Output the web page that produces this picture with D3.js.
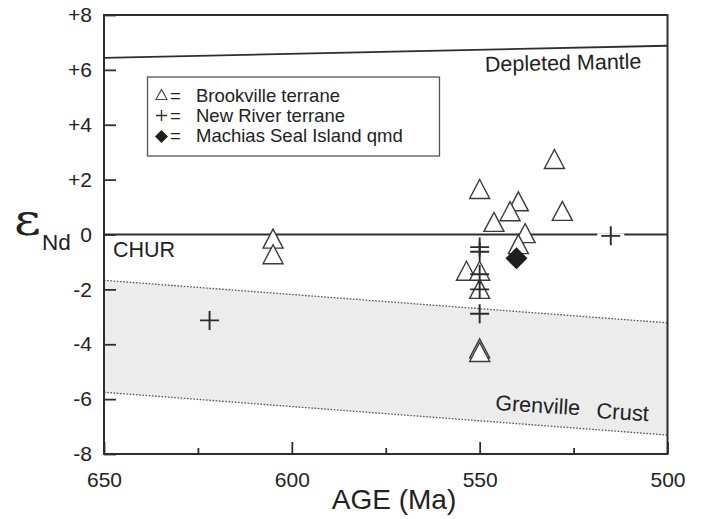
<!DOCTYPE html>
<html>
<head>
<meta charset="utf-8">
<style>
	body{
		margin: 0;
		background: white;
	}
	svg{
		display: block;
	}
	text{
		font-family: "Liberation Sans", Arial, sans-serif;
		fill: #222;
	}
</style>
</head>
<body>
<script src="https://cdn.jsdelivr.net/npm/d3@7/dist/d3.min.js" charset="utf-8"></script>
<svg width="703" height="519"></svg>
<script>
	// Brookville terrane (open triangles)
	var brookAge = [605, 605, 530.1, 550, 539.7, 541.9, 546.2, 528, 537.9, 539.7, 553.5, 550, 550, 550, 550];
	var brookEps = [-0.15, -0.72, 2.75, 1.66, 1.21, 0.85, 0.46, 0.86, 0.05, -0.35, -1.32, -1.32, -1.98, -4.15, -4.28];
	// New River terrane (crosses)
	var riverAge = [621.9, 550, 550, 550, 550, 550, 515.1];
	var riverEps = [-3.13, -0.46, -0.63, -1.45, -2.0, -2.89, -0.05];
	// Machias Seal Island qmd (diamond)
	var machAge = [540.2];
	var machEps = [-0.87];

	// reference curves
	var mantleAge = [650, 500];
	var mantleEps = [6.44, 6.88];
	var crustAge = [650, 500];
	var crustTop = [-1.67, -3.22];
	var crustBottom = [-5.75, -7.31];

	var yTicks = [-8, -6, -4, -2, 0, 2, 4, 6, 8];
	var xTicks = [650, 600, 550, 500];
	var xMinor = [625, 575, 525];
	var legendText = ["Brookville terrane", "New River terrane", "Machias Seal Island qmd"];

	var svg = d3.select("svg");
	var x = d3.scaleLinear().domain([650, 500]).range([104, 667.5]);
	var y = d3.scaleLinear().domain([-8, 8]).range([454, 15]);
	var ink = "#2e2e2e";

	// Grenville crust band
	var band = crustAge.map(function(a, i){ return {a: a, t: crustTop[i], b: crustBottom[i]}; });
	svg.append("path")
		.datum(band)
		.attr("d", d3.area().x(function(d){ return x(d.a); }).y0(function(d){ return y(d.b); }).y1(function(d){ return y(d.t); }))
		.attr("fill", "#ececec");
	[crustTop, crustBottom].forEach(function(arr){
		svg.append("path")
			.datum(arr.map(function(v, i){ return [crustAge[i], v]; }))
			.attr("d", d3.line().x(function(d){ return x(d[0]); }).y(function(d){ return y(d[1]); }))
			.attr("fill", "none")
			.attr("stroke", "#555")
			.attr("stroke-width", 1.3)
			.attr("stroke-dasharray", "1.6,1.6");
	});

	// depleted mantle
	svg.append("path")
		.datum(mantleAge.map(function(a, i){ return [a, mantleEps[i]]; }))
		.attr("d", d3.line().x(function(d){ return x(d[0]); }).y(function(d){ return y(d[1]); }))
		.attr("fill", "none")
		.attr("stroke", ink)
		.attr("stroke-width", 1.8);

	// CHUR
	svg.append("line")
		.attr("x1", x(650)).attr("x2", x(500))
		.attr("y1", y(0)).attr("y2", y(0))
		.attr("stroke", ink)
		.attr("stroke-width", 1.8);

	// axes
	var yAxis = svg.append("g")
		.attr("transform", "translate(" + x(650) + ",0)")
		.call(d3.axisLeft(y).tickValues(yTicks).tickSizeInner(-12).tickSizeOuter(0).tickPadding(12)
			.tickFormat(function(d){ return d > 0 ? "+" + d : String(d); }));
	var xAxis = svg.append("g")
		.attr("transform", "translate(0," + y(-8) + ")")
		.call(d3.axisBottom(x).tickValues(xTicks).tickSizeInner(-12).tickSizeOuter(0).tickPadding(18));
	var xAxisMinor = svg.append("g")
		.attr("transform", "translate(0," + y(-8) + ")")
		.call(d3.axisBottom(x).tickValues(xMinor).tickSizeInner(-6).tickSizeOuter(0).tickFormat(""));
	[yAxis, xAxis, xAxisMinor].forEach(function(g){
		g.select(".domain").remove();
		g.selectAll("line").attr("stroke", ink).attr("stroke-width", 1.8);
		g.selectAll("text")
			.style("font-family", "'Liberation Sans', Arial, sans-serif")
			.style("font-size", "21px")
			.attr("fill", "#222");
	});

	// frame
	svg.append("rect")
		.attr("x", x(650)).attr("y", y(8))
		.attr("width", x(500) - x(650)).attr("height", y(-8) - y(8))
		.attr("fill", "none")
		.attr("stroke", ink)
		.attr("stroke-width", 2);

	// labels in plot
	svg.append("text")
		.attr("transform", "translate(485,71.7) rotate(-1.2)")
		.style("font-size", "21.5px")
		.text("Depleted Mantle");
	svg.append("text")
		.attr("x", 113).attr("y", 257.3)
		.style("font-size", "21.5px")
		.text("CHUR");
	svg.append("text")
		.attr("transform", "translate(495,410) rotate(3.5)")
		.style("font-size", "21.5px")
		.text("Grenville");
	svg.append("text")
		.attr("transform", "translate(596,418) rotate(3.5)")
		.style("font-size", "22px")
		.text("Crust");

	// axis titles
	var yt = svg.append("g");
	yt.append("text")
		.attr("transform", "translate(14,235) scale(1.18,1)")
		.style("font-family", "'DejaVu Serif', serif")
		.style("font-size", "44px")
		.text("\u03b5");
	yt.append("text")
		.attr("x", 42).attr("y", 250)
		.style("font-size", "22.5px")
		.text("Nd");
	svg.append("text")
		.attr("x", 394).attr("y", 509)
		.attr("text-anchor", "middle")
		.style("font-size", "28px")
		.text("AGE (Ma)");

	// symbols
	function triPath(w, h){
		return "M0," + (-h / 2) + "L" + (w / 2) + "," + (h / 2) + "L" + (-w / 2) + "," + (h / 2) + "Z";
	}
	function crossPath(s){
		return "M" + (-s / 2) + ",0H" + (s / 2) + "M0," + (-s / 2) + "V" + (s / 2);
	}
	function diamondPath(s){
		return "M0," + (-s / 2) + "L" + (s / 2) + ",0L0," + (s / 2) + "L" + (-s / 2) + ",0Z";
	}

	// legend
	var lg = svg.append("g");
	lg.append("rect")
		.attr("x", 147.5).attr("y", 77)
		.attr("width", 292).attr("height", 79)
		.attr("fill", "white")
		.attr("stroke", "#555")
		.attr("stroke-width", 1.3);
	lg.append("path").attr("transform", "translate(161.5,94.5)").attr("d", triPath(11, 10))
		.attr("fill", "white").attr("stroke", "#444").attr("stroke-width", 1.1);
	lg.append("path").attr("transform", "translate(161.5,115.5)").attr("d", crossPath(11))
		.attr("stroke", "#333").attr("stroke-width", 1.4);
	lg.append("path").attr("transform", "translate(161.5,136.5)").attr("d", diamondPath(13))
		.attr("fill", "#1e1e1e");
	lg.selectAll("text.eq")
		.data(legendText)
		.enter().append("text")
		.attr("class", "eq")
		.attr("x", 170).attr("y", function(d, i){ return 101.7 + i * 20; })
		.style("font-size", "18.5px")
		.text("=");
	lg.selectAll("text.lab")
		.data(legendText)
		.enter().append("text")
		.attr("class", "lab")
		.attr("x", 196).attr("y", function(d, i){ return 101.7 + i * 20; })
		.style("font-size", "18.5px")
		.text(function(d){ return d; });

	// data points
	svg.selectAll("path.brook")
		.data(brookAge.map(function(a, i){ return [a, brookEps[i]]; }))
		.enter().append("path")
		.attr("class", "brook")
		.attr("transform", function(d){ return "translate(" + x(d[0]) + "," + y(d[1]) + ")"; })
		.attr("d", triPath(20, 19))
		.attr("fill", "white")
		.attr("stroke", "#3a3a3a")
		.attr("stroke-width", 1.4);

	svg.selectAll("path.mach")
		.data(machAge.map(function(a, i){ return [a, machEps[i]]; }))
		.enter().append("path")
		.attr("class", "mach")
		.attr("transform", function(d){ return "translate(" + x(d[0]) + "," + y(d[1]) + ")"; })
		.attr("d", diamondPath(22))
		.attr("fill", "#1e1e1e");

	var river = riverAge.map(function(a, i){ return [a, riverEps[i]]; });
	// white gap where a cross sits on the CHUR line
	svg.selectAll("line.halo")
		.data(river.filter(function(d){ return Math.abs(d[1]) < 0.2; }))
		.enter().append("line")
		.attr("class", "halo")
		.attr("x1", function(d){ return x(d[0]) - 13.5; })
		.attr("x2", function(d){ return x(d[0]) + 13.5; })
		.attr("y1", function(d){ return y(d[1]); })
		.attr("y2", function(d){ return y(d[1]); })
		.attr("stroke", "white")
		.attr("stroke-width", 5);
	svg.selectAll("path.river")
		.data(river)
		.enter().append("path")
		.attr("class", "river")
		.attr("transform", function(d){ return "translate(" + x(d[0]) + "," + y(d[1]) + ")"; })
		.attr("d", crossPath(19))
		.attr("stroke", "#2a2a2a")
		.attr("stroke-width", 1.9);
</script>
</body>
</html>
